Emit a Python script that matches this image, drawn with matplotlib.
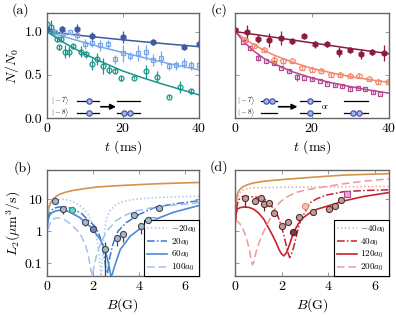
import matplotlib
matplotlib.use("Agg")
import matplotlib.pyplot as plt
from matplotlib.ticker import FixedLocator, NullLocator

plt.rcParams['font.family'] = 'serif'
plt.rcParams['font.serif'] = ['cmr10', 'DejaVu Serif']
plt.rcParams['mathtext.fontset'] = 'cm'
plt.rcParams['axes.unicode_minus'] = False
plt.rcParams['axes.formatter.use_mathtext'] = True

# ---------------- panel (a) data ----------------
t_dark_a = [0, 4, 8, 12, 20, 28, 36, 40]
n_dark_a = [1.03, 1.03, 1.03, 0.95, 0.94, 0.88, 0.82, 0.86]
e_dark_a = [0.03, 0.03, 0.06, 0.05, 0.07, 0.03, 0.02, 0.05]

t_lb_a = [0, 2.2, 4.2, 6.1, 7.9, 10, 11.8, 14, 16, 18, 20, 22, 24, 26, 28, 30, 32, 34, 36, 38, 40]
n_lb_a = [1.04, 0.99, 0.98, 0.99, 0.96, 0.86, 0.87, 0.84, 0.855, 0.68, 0.75, 0.72, 0.75, 0.76,
          0.67, 0.70, 0.60, 0.61, 0.635, 0.61, 0.61]
e_lb_a = [0.03, 0.02, 0.02, 0.02, 0.05, 0.06, 0.05, 0.06, 0.05, 0.05, 0.1, 0.05, 0.09, 0.09,
          0.07, 0.08, 0.04, 0.05, 0.06, 0.05, 0.05]

t_te_a = [0.2, 1.0, 1.9, 2.6, 3.1, 3.8, 4.9, 5.9, 6.9, 8.9, 10.3, 12.0, 13.3, 14.7, 16.4, 17.9,
          19.4, 22.8, 26.0, 28.9, 32.0, 35.1, 38.0]
n_te_a = [1.09, 1.05, 0.99, 0.91, 0.82, 0.91, 0.77, 0.77, 0.83, 0.77, 0.74, 0.63, 0.68, 0.60,
          0.56, 0.55, 0.46, 0.47, 0.54, 0.48, 0.25, 0.36, 0.31]
e_te_a = [0.03, 0.08, 0.03, 0.03, 0.03, 0.03, 0.07, 0.06, 0.03, 0.06, 0.04, 0.07, 0.07, 0.09,
          0.05, 0.03, 0.03, 0.02, 0.08, 0.06, 0.02, 0.07, 0.03]

t_fit = [0, 5, 10, 15, 20, 25, 30, 35, 40]
fit_dark_a = [1.0, 0.974, 0.950, 0.927, 0.905, 0.884, 0.864, 0.845, 0.826]
fit_lb_a = [1.0, 0.935, 0.872, 0.813, 0.758, 0.705, 0.652, 0.604, 0.558]
fit_te_a = [1.0, 0.86, 0.74, 0.64, 0.545, 0.47, 0.40, 0.335, 0.27]

# ---------------- panel (c) data ----------------
t_dr_c = [0, 3, 5.8, 8.8, 11.9, 14.7, 17.8, 20.8, 23.8, 26.9, 29.8, 32.8, 35.7, 38.8]
n_dr_c = [1.02, 1.0, 0.92, 0.90, 0.93, 0.89, 0.945, 0.855, 0.86, 0.765, 0.79, 0.74, 0.76, 0.75]
e_dr_c = [0.02, 0.08, 0.05, 0.08, 0.08, 0.03, 0.02, 0.04, 0.02, 0.06, 0.03, 0.06, 0.02, 0.09]

t_sa_c = [0, 2.6, 4.9, 7.5, 10, 12.5, 14.9, 17.5, 19.9, 22.3, 24.9, 27.4, 29.8, 32.3, 34.8, 37.2, 39.8]
n_sa_c = [1.02, 0.90, 0.83, 0.79, 0.675, 0.655, 0.655, 0.58, 0.555, 0.55, 0.50, 0.50, 0.49, 0.49,
          0.45, 0.42, 0.42]
e_sa_c = [0.02, 0.02, 0.02, 0.02, 0.04, 0.04, 0.02, 0.02, 0.02, 0.02, 0.02, 0.02, 0.02, 0.02,
          0.02, 0.02, 0.02]

t_mg_c = [0, 1.9, 3.9, 5.9, 8, 10, 12, 14, 16, 17.9, 20, 22, 24, 26, 27.9, 29.9, 31.9, 33.8, 35.8, 37.8]
n_mg_c = [1.02, 0.885, 0.81, 0.70, 0.655, 0.635, 0.585, 0.54, 0.475, 0.46, 0.45, 0.435, 0.40,
          0.385, 0.373, 0.34, 0.352, 0.333, 0.305, 0.275]
e_mg_c = [0.01, 0.02, 0.01, 0.04, 0.01, 0.01, 0.01, 0.01, 0.04, 0.01, 0.01, 0.01, 0.01, 0.01,
          0.01, 0.01, 0.01, 0.01, 0.01, 0.01]

fit_dr_c = [1.0, 0.967, 0.935, 0.902, 0.87, 0.838, 0.805, 0.775, 0.745]
t_fit2 = [0, 2.5, 5, 7.5, 10, 15, 20, 25, 30, 35, 40]
fit_sa_c = [1.0, 0.915, 0.845, 0.785, 0.73, 0.645, 0.575, 0.525, 0.48, 0.445, 0.415]
fit_mg_c = [1.0, 0.87, 0.77, 0.69, 0.63, 0.535, 0.465, 0.41, 0.365, 0.325, 0.29]

# ---------------- panel (b) data ----------------
B_or_b = [0.0, 0.03, 0.06, 0.11, 0.18, 0.26, 0.4, 0.55, 0.8, 1.13, 1.6, 2.14, 2.8, 3.6, 4.75, 5.6, 6.6]
L_or_b = [0.9, 2.5, 4.0, 6.1, 8.0, 9.8, 12.0, 14.0, 16.3, 18.6, 21.0, 23.6, 25.5, 27.4, 30.0, 31.5, 33.0]

B_m20 = [0.0, 0.05, 0.1, 0.2, 0.35, 0.6, 1.0, 1.3, 1.56, 1.8, 2.0, 2.12, 2.22, 2.3, 2.36, 2.42,
         2.5, 2.58, 2.75, 3.0, 3.3, 3.8, 4.75, 5.6, 6.6]
L_m20 = [0.9, 3.0, 5.0, 7.5, 9.0, 10.0, 9.2, 7.3, 5.4, 3.3, 1.65, 0.9, 0.35, 0.1, 0.04, 0.2,
         0.9, 2.3, 4.5, 6.8, 8.4, 9.8, 11.2, 11.8, 12.2]

B_p20 = [0.0, 0.05, 0.1, 0.2, 0.35, 0.55, 0.8, 1.1, 1.5, 1.9, 2.14, 2.3, 2.43, 2.52, 2.58, 2.64,
         2.72, 2.87, 3.09, 3.45, 4.03, 4.75, 5.6, 6.6]
L_p20 = [0.9, 2.3, 3.4, 4.5, 5.3, 5.7, 5.7, 5.1, 3.6, 1.9, 1.3, 0.7, 0.31, 0.12, 0.05, 0.05,
         0.14, 0.4, 1.0, 1.86, 3.4, 5.7, 7.2, 8.9]

B_p60 = [0.0, 0.05, 0.11, 0.2, 0.4, 0.6, 0.8, 1.0, 1.45, 1.88, 2.1, 2.32, 2.5, 2.62, 2.72, 2.78,
         2.84, 2.9, 2.97, 3.19, 3.62, 4.2, 4.75, 5.5, 6.6]
L_p60 = [0.9, 2.0, 3.0, 3.7, 4.3, 4.5, 4.4, 4.0, 2.6, 1.4, 0.9, 0.55, 0.29, 0.15, 0.07, 0.04,
         0.045, 0.065, 0.093, 0.27, 0.7, 1.45, 2.4, 3.9, 6.3]

B_p100 = [0.0, 0.05, 0.1, 0.2, 0.3, 0.45, 0.65, 0.9, 1.1, 1.3, 1.5, 1.7, 1.82, 1.92, 1.98, 2.05,
          2.17, 2.35, 2.6, 3.0, 3.33, 3.9, 4.5, 5.5, 6.6]
L_p100 = [0.5, 1.0, 1.5, 2.1, 2.4, 2.6, 2.5, 2.0, 1.5, 1.1, 0.7, 0.33, 0.15, 0.06, 0.04, 0.08,
          0.19, 0.45, 1.0, 2.1, 3.0, 4.3, 5.3, 6.5, 7.6]

B_pts_b = [0.38, 0.72, 1.65, 2.53, 3.03, 3.3, 3.77, 4.07, 4.37, 4.85]
L_pts_b = [8.5, 5.0, 2.0, 0.28, 0.6, 0.79, 3.2, 1.43, 2.3, 5.3]
Llo_b = [0.0, 1.6, 0.6, 0.24, 0.25, 0.33, 0.7, 0.6, 0.3, 0.6]
Lhi_b = [0.0, 0.6, 0.3, 0.17, 0.15, 0.25, 0.6, 0.3, 0.2, 0.6]
B_dk_b, L_dk_b = [2.01], [1.13]
B_te_b, L_te_b = [1.1], [4.5]
B_sq_b, L_sq_b = [4.58], [2.25]

# ---------------- panel (d) data ----------------
B_or_d = [0.0, 0.03, 0.06, 0.09, 0.15, 0.25, 0.37, 0.55, 0.8, 1.3, 2.08, 2.8, 3.5, 4.65, 5.6, 6.6]
L_or_d = [1.8, 5, 9, 14, 18, 22, 25, 28.5, 32, 36.5, 41, 45, 49, 56, 59, 62]

B_m40 = [0.0, 0.04, 0.1, 0.18, 0.28, 0.45, 0.8, 1.5, 2.5, 4.0, 5.5, 6.6]
L_m40 = [1.8, 5, 10, 15, 18.5, 21, 22.5, 23, 23.5, 24, 24.5, 25]

B_p40 = [0.0, 0.05, 0.1, 0.2, 0.31, 0.6, 0.9, 1.17, 1.37, 1.6, 1.8, 1.95, 2.08, 2.16, 2.22, 2.28,
         2.34, 2.42, 2.5, 2.58, 2.7, 2.8, 3.0, 3.22, 3.5, 3.93, 4.65, 5.5, 6.6]
L_p40 = [1.8, 4.5, 7.5, 10.5, 12, 12, 11.5, 10.8, 8.7, 5.5, 3.4, 1.7, 0.8, 0.45, 0.3, 0.2,
         0.15, 0.2, 0.3, 0.5, 1.2, 2.1, 4.0, 7.7, 10.2, 13.4, 17, 18.5, 19.5]

B_p120 = [0.0, 0.04, 0.09, 0.2, 0.37, 0.6, 0.8, 1.0, 1.23, 1.4, 1.58, 1.75, 1.87, 1.98, 2.08,
          2.18, 2.29, 2.42, 2.58, 2.75, 2.94, 3.2, 3.5, 4.22, 4.65, 5.5, 6.6]
L_p120 = [1.8, 3.5, 4.8, 5.4, 5.7, 5.5, 4.8, 3.7, 2.35, 1.4, 0.8, 0.45, 0.28, 0.2, 0.17,
          0.2, 0.31, 0.6, 1.15, 1.9, 2.7, 3.7, 4.8, 6.9, 8.7, 12, 16]

B_p200 = [0.0, 0.1, 0.2, 0.3, 0.4, 0.5, 0.6, 0.68, 0.74, 0.8, 0.88, 1.0, 1.2, 1.4, 1.6, 1.8,
          2.0, 2.2, 2.6, 3.0, 3.5, 4.65, 5.5, 6.6]
L_p200 = [2.2, 2.0, 1.7, 1.3, 0.9, 0.55, 0.28, 0.14, 0.09, 0.11, 0.2, 0.4, 0.9, 1.8, 3.5, 6.5,
          9.0, 11.5, 16, 19, 22, 30, 36, 43]

B_pts_d = [0.40, 0.87, 1.11, 1.23, 1.44, 1.65, 2.01, 2.25, 2.76, 3.36, 4.03, 4.29, 4.53]
L_pts_d = [10.5, 8.5, 11.0, 7.2, 7.7, 3.6, 1.5, 1.9, 2.8, 4.0, 4.9, 6.3, 9.6]
Llo_d = [5.0, 0.8, 1.0, 3.0, 0.6, 0.4, 0.2, 0.2, 0.3, 0.3, 0.4, 0.5, 0.6]
Lhi_d = [0.0, 0.8, 1.0, 0.8, 0.6, 0.4, 0.2, 0.2, 0.3, 0.3, 0.4, 0.5, 0.6]
B_dk_d, L_dk_d = [2.5], [0.95]
B_sa_d, L_sa_d = [2.98], [6.3]
B_sq_d, L_sq_d = [4.8], [14.4]

# colours
c_dblue, c_lblue, c_teal = '#3b5ba5', '#79a7ec', '#18968a'
c_dred, c_salm, c_mag = '#8c1c3c', '#f2896e', '#b4478f'
c_orange = '#d5924b'
spine_c = '#666666'

# rows of the little state diagrams (axes fraction)
row_top, row_bot = 0.168, 0.052


def style_axes(ax):
    for s in ax.spines.values():
        s.set_color(spine_c)
        s.set_linewidth(1.0)
    ax.tick_params(direction='in', top=True, right=True, length=3, width=0.6,
                   color='#888888', labelsize=10, pad=3)


def ket_row(ax, x0, x1, y, circles, color='#4556b0'):
    ax.plot([x0, x1], [y, y], color='black', lw=0.9, transform=ax.transAxes, clip_on=False)
    if circles:
        ax.plot(circles, [y] * len(circles), 'o', ms=3.8, mfc='#a9b5e6', mec=color, mew=0.9,
                transform=ax.transAxes, clip_on=False)


def arrow(ax, x0, x1, y):
    ax.annotate('', xy=(x1, y), xytext=(x0, y), xycoords='axes fraction',
                arrowprops=dict(arrowstyle='-|>', color='black', lw=1.2, mutation_scale=8,
                                shrinkA=0, shrinkB=0))


def kets(ax, x):
    ax.text(x, row_top, r'$|-7\rangle$', transform=ax.transAxes, fontsize=5.2,
            va='center', ha='left')
    ax.text(x, row_bot, r'$|-8\rangle$', transform=ax.transAxes, fontsize=5.2,
            va='center', ha='left')


fig = plt.figure(figsize=(3.96, 3.18), dpi=100)
ax_a = fig.add_axes([0.118, 0.628, 0.3845, 0.330])
ax_c = fig.add_axes([0.594, 0.628, 0.388, 0.330])
ax_b = fig.add_axes([0.118, 0.132, 0.3845, 0.333])
ax_d = fig.add_axes([0.594, 0.132, 0.388, 0.333])

# ---- (a) ----
ax = ax_a
ax.plot(t_fit, fit_dark_a, color=c_dblue, lw=1.1)
ax.plot(t_fit, fit_lb_a, color=c_lblue, lw=1.1)
ax.plot(t_fit, fit_te_a, color=c_teal, lw=1.1)
ax.errorbar(t_te_a, n_te_a, yerr=e_te_a, fmt='o', ms=3.5, mfc='none', mec=c_teal, mew=0.9,
            ecolor=c_teal, elinewidth=0.9, capsize=0)
ax.errorbar(t_lb_a, n_lb_a, yerr=e_lb_a, fmt='s', ms=3.3, mfc='none', mec=c_lblue, mew=0.9,
            ecolor=c_lblue, elinewidth=0.9, capsize=0)
ax.errorbar(t_dark_a, n_dark_a, yerr=e_dark_a, fmt='h', ms=3.8, mfc=c_dblue, mec=c_dblue,
            ecolor=c_dblue, elinewidth=0.9, capsize=0)
ax.set_xlim(0, 40)
ax.set_ylim(0, 1.21)
ax.set_xticks([0, 20, 40])
ax.set_yticks([0.0, 0.5, 1.0])
ax.set_yticklabels(['0.0', '0.5', '1.0'])
ax.set_xlabel('$t$ (ms)', fontsize=10, labelpad=2)
ax.set_ylabel('$N/N_0$', fontsize=10, labelpad=3)
style_axes(ax)
kets(ax, 0.028)
ket_row(ax, 0.196, 0.343, row_top, [0.278])
ket_row(ax, 0.196, 0.343, row_bot, [0.278])
arrow(ax, 0.355, 0.455, (row_top + row_bot) / 2)
ket_row(ax, 0.462, 0.613, row_top, [])
ket_row(ax, 0.462, 0.613, row_bot, [0.505, 0.55])

# ---- (c) ----
ax = ax_c
ax.plot(t_fit, fit_dr_c, color=c_dred, lw=1.1)
ax.plot(t_fit2, fit_sa_c, color=c_salm, lw=1.1)
ax.plot(t_fit2, fit_mg_c, color=c_mag, lw=1.1)
ax.errorbar(t_mg_c, n_mg_c, yerr=e_mg_c, fmt='s', ms=3.3, mfc='none', mec=c_mag, mew=0.9,
            ecolor=c_mag, elinewidth=0.9, capsize=0)
ax.errorbar(t_sa_c, n_sa_c, yerr=e_sa_c, fmt='p', ms=3.8, mfc='none', mec=c_salm, mew=0.9,
            ecolor=c_salm, elinewidth=0.9, capsize=0)
ax.errorbar(t_dr_c, n_dr_c, yerr=e_dr_c, fmt='h', ms=3.8, mfc=c_dred, mec=c_dred,
            ecolor=c_dred, elinewidth=0.9, capsize=0)
ax.set_xlim(0, 40)
ax.set_ylim(0, 1.21)
ax.set_xticks([0, 20, 40])
ax.set_yticks([0.0, 0.5, 1.0])
ax.set_yticklabels([])
ax.set_xlabel('$t$ (ms)', fontsize=10, labelpad=2)
style_axes(ax)
kets(ax, 0.011)
ket_row(ax, 0.166, 0.271, row_top, [0.198, 0.238])
ket_row(ax, 0.166, 0.271, row_bot, [])
arrow(ax, 0.282, 0.405, (row_top + row_bot) / 2)
ket_row(ax, 0.423, 0.553, row_top, [0.488])
ket_row(ax, 0.423, 0.553, row_bot, [0.488])
ax.text(0.585, (row_top + row_bot) / 2, 'or', transform=ax.transAxes, fontsize=5.5,
        va='center', ha='center')
ket_row(ax, 0.709, 0.861, row_top, [])
ket_row(ax, 0.709, 0.861, row_bot, [0.764, 0.807])

# ---- (b) ----
ax = ax_b
ax.set_yscale('log')
ax.plot(B_or_b, L_or_b, color=c_orange, lw=1.2)
ax.plot(B_m20, L_m20, color='#a9c9f2', lw=1.1, ls=(0, (1, 1.5)), label='$-20a_0$')
ax.plot(B_p20, L_p20, color='#3a78cc', lw=1.1, ls=(0, (5, 1.5, 1, 1.5)), label='$20a_0$')
ax.plot(B_p60, L_p60, color='#4a8ad8', lw=1.2, label='$60a_0$')
ax.plot(B_p100, L_p100, color='#9fc2ee', lw=1.1, ls=(0, (5, 2.5)), label='$100a_0$')
ax.errorbar(B_pts_b, L_pts_b, yerr=[Llo_b, Lhi_b], fmt='o', ms=4.4, mfc='#aab6ca', mec='#3c4658',
            mew=0.8, ecolor='#3c4658', elinewidth=0.9, capsize=0, zorder=5)
ax.plot(B_dk_b, L_dk_b, 'o', ms=4.4, mfc='#6f86c4', mec='#3c4658', mew=0.8, zorder=5)
ax.plot(B_te_b, L_te_b, 'o', ms=4.4, mfc='#7cc9bd', mec=c_teal, mew=0.8, zorder=5)
ax.plot(B_sq_b, L_sq_b, 's', ms=4.0, mfc='#c4d8f6', mec=c_lblue, mew=0.8, zorder=5)
ax.set_xlim(0, 6.6)
ax.set_ylim(0.04, 80)
ax.yaxis.set_major_locator(FixedLocator([0.1, 1, 10]))
ax.yaxis.set_minor_locator(NullLocator())
ax.set_yticklabels(['0.1', '1', '10'])
ax.set_xticks([0, 2, 4, 6])
ax.set_xlabel('$B$(G)', fontsize=10, labelpad=2)
ax.set_ylabel(r'$L_2(\mu{\rm m}^3/{\rm s})$', fontsize=10, labelpad=1)
style_axes(ax)
leg = ax.legend(loc='lower right', fontsize=6.5, frameon=True, fancybox=False, edgecolor='black',
                framealpha=1, borderaxespad=0, handlelength=2.2, handletextpad=0.4,
                labelspacing=0.15, borderpad=0.3)
leg.get_frame().set_linewidth(0.8)

# ---- (d) ----
ax = ax_d
ax.set_yscale('log')
ax.plot(B_or_d, L_or_d, color=c_orange, lw=1.2)
ax.plot(B_m40, L_m40, color='#f2a3a3', lw=1.1, ls=(0, (1, 1.5)), label='$-40a_0$')
ax.plot(B_p40, L_p40, color='#c42030', lw=1.1, ls=(0, (5, 1.5, 1, 1.5)), label='$40a_0$')
ax.plot(B_p120, L_p120, color='#c9232b', lw=1.2, label='$120a_0$')
ax.plot(B_p200, L_p200, color='#eb9a9a', lw=1.1, ls=(0, (5, 2.5)), label='$200a_0$')
ax.errorbar(B_pts_d, L_pts_d, yerr=[Llo_d, Lhi_d], fmt='o', ms=4.4, mfc='#c29c9c', mec='#5a2a2a',
            mew=0.8, ecolor='#5a2a2a', elinewidth=0.9, capsize=0, zorder=5)
ax.plot(B_dk_d, L_dk_d, 'o', ms=4.4, mfc='#8a3a4a', mec='#4a1a22', mew=0.8, zorder=5)
ax.plot(B_sa_d, L_sa_d, 'o', ms=4.4, mfc='#f7c0b0', mec=c_salm, mew=0.8, zorder=5)
ax.plot(B_sq_d, L_sq_d, 's', ms=4.0, mfc='#dcaed0', mec=c_mag, mew=0.8, zorder=5)
ax.set_xlim(0, 6.6)
ax.set_ylim(0.04, 80)
ax.yaxis.set_major_locator(FixedLocator([0.1, 1, 10]))
ax.yaxis.set_minor_locator(NullLocator())
ax.set_yticklabels([])
ax.set_xticks([0, 2, 4, 6])
ax.set_xlabel('$B$(G)', fontsize=10, labelpad=2)
style_axes(ax)
leg = ax.legend(loc='lower right', fontsize=6.5, frameon=True, fancybox=False, edgecolor='black',
                framealpha=1, borderaxespad=0, handlelength=2.2, handletextpad=0.4,
                labelspacing=0.15, borderpad=0.3)
leg.get_frame().set_linewidth(0.8)

# panel letters
fig.text(0.052, 0.969, '(a)', fontsize=10, va='center', ha='center')
fig.text(0.058, 0.472, '(b)', fontsize=10, va='center', ha='center')
fig.text(0.553, 0.969, '(c)', fontsize=10, va='center', ha='center')
fig.text(0.553, 0.475, '(d)', fontsize=10, va='center', ha='center')

fig.savefig('out.png', dpi=100)
